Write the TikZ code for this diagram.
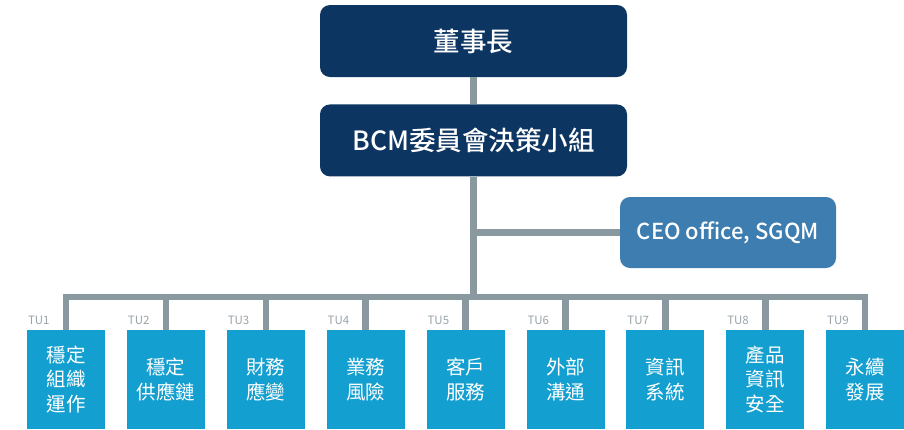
\documentclass[tikz,border=0pt]{standalone}
\usepackage{fontspec}
\setmainfont{Noto Sans CJK TC}
\newfontfamily\midfont{Noto Sans CJK TC Medium}
\usetikzlibrary{positioning}
\definecolor{navy}{HTML}{0D3562}
\definecolor{steel}{HTML}{3D7DB0}
\definecolor{sky}{HTML}{139FCF}
\definecolor{wire}{HTML}{8A989F}
\definecolor{mist}{HTML}{98A3A9}
\tikzset{head/.style={fill=navy,rounded corners=10pt,text=white,align=center,font=\midfont\fontsize{26.5}{30}\selectfont,minimum width=307pt,minimum height=72pt,inner sep=0pt},office/.style={fill=steel,rounded corners=10pt,text=white,font=\midfont\fontsize{22}{25}\selectfont,minimum width=216pt,minimum height=71pt,inner sep=0pt},unit/.style={fill=sky,text=white,align=center,font=\fontsize{19.5}{24.5}\selectfont,minimum width=78pt,minimum height=99pt,inner sep=0pt},tag/.style={text=mist,font=\fontsize{11.5}{12}\selectfont,anchor=south west,inner sep=1pt,yshift=4pt},link/.style={draw=wire,line width=6.5pt,line join=miter}}
\begin{document}
\begin{tikzpicture}[x=1pt,y=1pt]
\useasboundingbox (0,0) rectangle (904,-429);
\node[head] (chair) at (473.5,-41) {董事長};
\node[head,below=27pt of chair] (bcm) {BCM委員會決策小組};
\node[office] (ceo) at (728,-232.5) {CEO office, SGQM};
\node[unit] (tu1) at (66,-379.5) {穩定\\組織\\運作};
\node[unit,right=21.5pt of tu1] (tu2) {穩定\\供應鏈};
\node[unit,right=21.5pt of tu2] (tu3) {財務\\應變};
\node[unit,right=21.5pt of tu3] (tu4) {業務\\風險};
\node[unit,right=21.5pt of tu4] (tu5) {客戶\\服務};
\node[unit,right=21.5pt of tu5] (tu6) {外部\\溝通};
\node[unit,right=21.5pt of tu6] (tu7) {資訊\\系統};
\node[unit,right=21.5pt of tu7] (tu8) {產品\\資訊\\安全};
\node[unit,right=21.5pt of tu8] (tu9) {永續\\發展};
\coordinate (bus) at (0,-297);
% connectors
\draw[link](chair)--(bcm);
\draw[link](bcm.south)--(bcm.south |- bus);
\draw[link](ceo.west)--(ceo.west -| bcm.south);
\draw[link](tu1.north)--(tu1.north |- bus)--(tu9.north |- bus)--(tu9.north);
\foreach \i in {2,...,8}{\draw[link](tu\i.north)--(tu\i.north |- bus);}
% labels
\foreach \i in {1,...,9}{\node[tag] (lab\i) at (tu\i.north west) {TU\i};}
\end{tikzpicture}
\end{document}
